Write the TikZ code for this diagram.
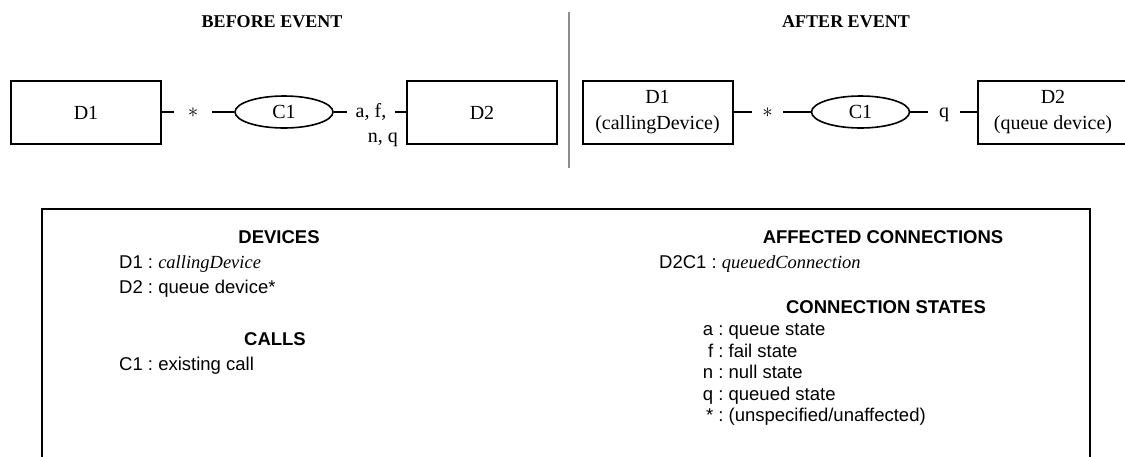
\documentclass[tikz,border=0pt]{standalone}
\usepackage{fontspec}
\setmainfont{Liberation Serif}
\setsansfont{Liberation Sans}
\usetikzlibrary{shapes.geometric}

\begin{document}
\begin{tikzpicture}[x=1pt,y=-1pt,
  dev/.style={draw,line width=2pt,minimum width=150pt,minimum height=63pt,
    inner sep=0pt,align=center,font=\fontsize{20}{26}\selectfont},
  call/.style={draw,ellipse,line width=1.6pt,minimum width=98pt,minimum height=32pt,
    inner sep=0pt,font=\fontsize{20}{24}\selectfont},
  st/.style={inner ysep=0pt,text height=14pt,text depth=4pt,font=\fontsize{20}{24}\selectfont},
  link/.style={line width=2pt},
  title/.style={anchor=base,font=\fontsize{18}{22}\selectfont\bfseries},
  head/.style={anchor=base,font=\fontsize{18.5}{22}\selectfont\sffamily\bfseries},
  item/.style={anchor=base west,inner sep=0pt,font=\fontsize{18.5}{22}\selectfont\sffamily}]
\useasboundingbox (0,0) rectangle (1125,456);
  % titles and separator
	\node[title] (tB) at (272,27) {BEFORE EVENT};
	\node[title] (tA) at (846,27) {AFTER EVENT};
	\draw[gray!90,line width=2pt] (569,12) -- (569,168);
  % before event
	\node[dev] at (86,112.5) (D1b) {D1};
	\node[st,minimum width=38pt] at (193,112) (sB) {$\ast$};
	\node[call] at (284,112) (C1b) {C1};
	\node[st,inner xsep=9pt] at (371,112) (afB) {a, f,};
	\node[st,anchor=base east,inner sep=0pt] at (398,142) (nqB) {n, q};
	\node[dev] at (482,112.5) (D2b) {D2};
	\draw[link] (D1b.east |- sB) -- (sB.west);
	\draw[link] (sB.east) -- (C1b.west);
	\draw[link] (C1b.east) -- (afB.west);
	\draw[link] (afB.east) -- (D2b.west |- afB);
  % after event
	\node[dev] at (657.5,112.5) (D1a) {D1\\(callingDevice)};
	\node[st,minimum width=31pt] at (767.5,112) (sA) {$\ast$};
	\node[call] at (860.5,112) (C1a) {C1};
	\node[st,minimum width=32pt] at (944,112) (qA) {q};
	\node[dev] at (1053,112.5) (D2a) {D2\\(queue device)};
	\draw[link] (D1a.east |- sA) -- (sA.west);
	\draw[link] (sA.east) -- (C1a.west);
	\draw[link] (C1a.east) -- (qA.west);
	\draw[link] (qA.east) -- (D2a.west |- qA);
  % legend
	\draw[line width=2pt] (42,209) rectangle (1090,470);
	\node[head] at (279,243) (hDev) {DEVICES};
	\node[item] at (119,268) (iD1) {D1~:~{\rmfamily\itshape callingDevice}};
	\node[item] at (119,293) (iD2) {D2~:~queue device*};
	\node[head] at (275,345) (hCall) {CALLS};
	\node[item] at (119,370) (iC1) {C1~:~existing call};
	\node[head] at (883,243) (hAff) {AFFECTED CONNECTIONS};
	\node[item] at (659,268) (iD2C1) {D2C1~:~{\rmfamily\itshape queuedConnection}};
	\node[head] at (886,313) (hSt) {CONNECTION STATES};
	\node[item] at (701,335) (sa) {\makebox[12pt][r]{a}~:~queue state};
	\node[item] at (701,357) (sf) {\makebox[12pt][r]{f}~:~fail state};
	\node[item] at (701,378.5) (sn) {\makebox[12pt][r]{n}~:~null state};
	\node[item] at (701,400) (sq) {\makebox[12pt][r]{q}~:~queued state};
	\node[item] at (701,421.5) (sx) {\makebox[12pt][r]{*}~:~(unspecified/unaffected)};
\end{tikzpicture}
\end{document}
